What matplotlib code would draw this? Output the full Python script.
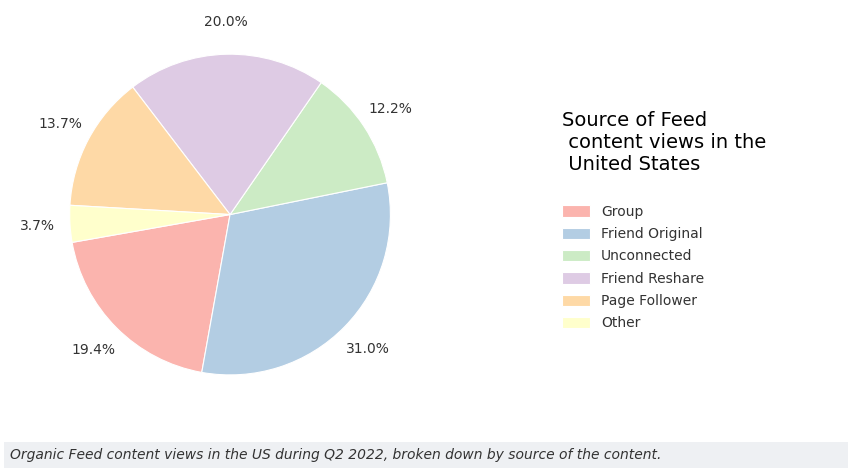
import matplotlib.pyplot as plt

labels = ['Group', 'Friend Original', 'Unconnected', 'Friend Reshare', 'Page Follower', 'Other']
shares = [19.4, 31.0, 12.2, 20.0, 13.7, 3.7]
colors = ['#fbb4ae', '#b3cde3', '#ccebc5', '#decbe4', '#fed9a6', '#ffffcc']

fig = plt.figure(figsize=(8.52, 4.70), dpi=100, facecolor='white')
ax = fig.add_axes([0.02, 0.117, 0.50, 0.853])
wedges, _, autotexts = ax.pie(shares, colors=colors, startangle=190, autopct='%1.1f%%',
                              pctdistance=1.2, wedgeprops=dict(edgecolor='white', linewidth=0.8),
                              textprops=dict(fontsize=10, color='#333333'))
ax.set_aspect('equal')

leg = fig.legend(wedges, labels, loc='center left', bbox_to_anchor=(0.645, 0.53),
                 frameon=False, fontsize=10, handlelength=2.0, handleheight=0.9,
                 labelspacing=0.6,
                 title='Source of Feed\n content views in the\n United States\n',
                 title_fontsize=14)
leg._legend_box.align = 'left'
for t in leg.get_texts():
    t.set_color('#333333')

fig.patches.append(plt.Rectangle((0.005, 0.005), 0.99, 0.055, transform=fig.transFigure,
                                 facecolor='#eef0f3', edgecolor='none'))
fig.text(0.012, 0.032, 'Organic Feed content views in the US during Q2 2022, broken down by source of the content.',
         fontsize=10, style='italic', color='#333333', va='center')

fig.savefig('out.png', dpi=100)
